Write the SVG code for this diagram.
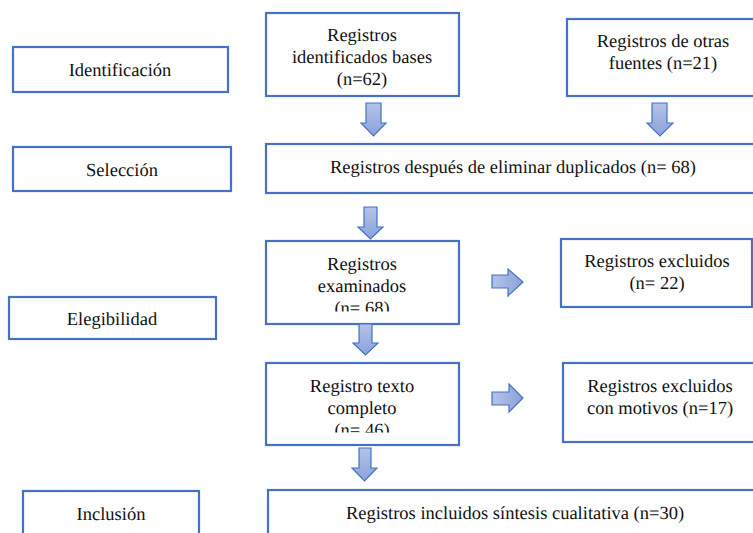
<svg xmlns="http://www.w3.org/2000/svg" width="753" height="533" viewBox="0 0 753 533">
<style>
.box{fill:#fff;stroke:#4472C4;stroke-width:2.2}
.t{font-family:"Liberation Serif","Times New Roman",serif;font-size:18.5px;fill:#111;text-anchor:middle;text-rendering:geometricPrecision}
.arr{fill:url(#g);stroke:#4472C4;stroke-width:1.2}
.arrv{fill:url(#gv);stroke:#4472C4;stroke-width:1.2}
</style>
<defs>
<linearGradient id="g" x1="0" y1="0" x2="1" y2="0"><stop offset="0" stop-color="#b4c3ea"/><stop offset="1" stop-color="#8aa1d9"/></linearGradient>
<linearGradient id="gv" x1="0" y1="0" x2="0" y2="1"><stop offset="0" stop-color="#b4c3ea"/><stop offset="1" stop-color="#8aa1d9"/></linearGradient>
<clipPath id="c1"><rect x="266" y="241" width="193" height="70.5"/></clipPath>
<clipPath id="c2"><rect x="266" y="363" width="193" height="69.5"/></clipPath>
</defs>
<rect width="753" height="533" fill="#fff"/>
<g id="n-identificacion"><rect class="box" x="13" y="47" width="215" height="45"/><text class="t" x="120" y="76">Identificación</text></g>
<g id="n-seleccion"><rect class="box" x="13" y="147" width="218" height="44"/><text class="t" x="122" y="176">Selección</text></g>
<g id="n-elegibilidad"><rect class="box" x="9" y="297" width="207" height="42"/><text class="t" x="112" y="325">Elegibilidad</text></g>
<g id="n-inclusion"><rect class="box" x="23" y="491" width="176" height="60"/><text class="t" x="111" y="520">Inclusión</text></g>
<g id="n-bases"><rect class="box" x="266" y="13" width="193" height="83"/>
<text class="t" x="362" y="40.5">Registros</text><text class="t" x="362" y="63">identificados bases</text><text class="t" x="362" y="85">(n=62)</text></g>
<g id="n-otras"><rect class="box" x="567" y="19" width="200" height="77"/>
<text class="t" x="663" y="47">Registros de otras</text><text class="t" x="663" y="69">fuentes (n=21)</text></g>
<g id="n-duplicados"><rect class="box" x="266" y="144" width="500" height="49"/>
<text class="t" x="513" y="173">Registros después de eliminar duplicados (n= 68)</text></g>
<g id="n-examinados"><rect class="box" x="266" y="241" width="193" height="83"/>
<g clip-path="url(#c1)"><text class="t" x="362" y="270">Registros</text><text class="t" x="362" y="292">examinados</text><text class="t" x="362" y="314">(n= 68)</text></g></g>
<g id="n-excluidos"><rect class="box" x="561" y="239" width="191" height="68"/>
<text class="t" x="657" y="267">Registros excluidos</text><text class="t" x="657" y="288.5">(n= 22)</text></g>
<g id="n-texto"><rect class="box" x="266" y="363" width="193" height="82"/>
<g clip-path="url(#c2)"><text class="t" x="362" y="391.5">Registro texto</text><text class="t" x="362" y="414">completo</text><text class="t" x="362" y="436">(n= 46)</text></g></g>
<g id="n-motivos"><rect class="box" x="563" y="363" width="200" height="79"/>
<text class="t" x="660" y="391.5">Registros excluidos</text><text class="t" x="660" y="414">con motivos (n=17)</text></g>
<g id="n-incluidos"><rect class="box" x="268" y="490" width="500" height="60"/>
<text class="t" x="515" y="518.5">Registros incluidos síntesis cualitativa (n=30)</text></g>
<g id="connectors">
<path class="arrv" d="M366,103 H381 V123 H386 L373.5,136 L361,123 H366 Z"/>
<path class="arrv" d="M652,103 H667 V123 H673 L660,136 L647,123 H652 Z"/>
<path class="arrv" d="M364,207 H377 V227 H383 L370.5,239 L358,227 H364 Z"/>
<path class="arrv" d="M359,324 H372 V343 H378 L365.5,355 L353,343 H359 Z"/>
<path class="arrv" d="M359,448 H371 V468 H377 L364.5,481 L352,468 H359 Z"/>
<path class="arr" d="M492,275 H508 V269 L523,282 L508,296 V288 H492 Z"/>
<path class="arr" d="M492,392 H509 V384 L523,398 L509,412 V405 H492 Z"/>
</g>
</svg>
